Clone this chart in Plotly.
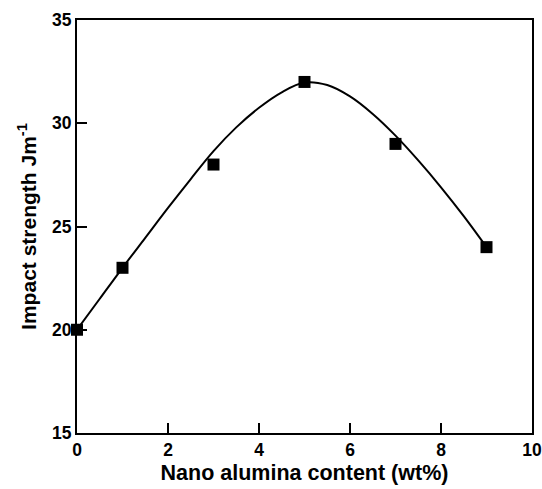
import plotly.graph_objects as go

# Measured data points
content = [0, 1, 3, 5, 7, 9]
impact = [20, 23, 28, 32, 29, 24]

# Fitted curve
curve_x = [0, 0.5, 1, 1.5, 2, 2.5, 3, 3.5, 4, 4.5, 5, 5.5, 6, 6.5, 7, 7.5, 8, 8.5, 9]
curve_y = [20, 21.5, 23, 24.45, 25.9, 27.3, 28.65, 29.8, 30.75, 31.5, 31.97, 31.85, 31.3, 30.45, 29.4, 28.2, 26.9, 25.5, 24.0]

x_ticks = [0, 2, 4, 6, 8, 10]
y_ticks = [15, 20, 25, 30, 35]
x_labels = ["0", "2", "4", "6", "8", "10"]
y_labels = ["15", "20", "25", "30", "35"]

FONT = "Liberation Sans"

fig = go.Figure()
fig.add_trace(go.Scatter(x=curve_x, y=curve_y, mode="lines",
                         line=dict(color="black", width=2, shape="spline", smoothing=1),
                         showlegend=False, cliponaxis=False))
fig.add_trace(go.Scatter(x=content, y=impact, mode="markers",
                         marker=dict(symbol="square", size=12, color="black"),
                         showlegend=False, cliponaxis=False))

axis_common = dict(showgrid=False, zeroline=False, showline=True, linecolor="black",
                   linewidth=2, mirror=True, ticks="inside", ticklen=10, tickwidth=2,
                   tickcolor="black", automargin=False, ticklabeloverflow="allow",
                   tickfont=dict(family=FONT, size=17.5, color="black"))

fig.update_layout(
    width=542, height=489,
    margin=dict(l=77, r=10, t=20, b=56),
    paper_bgcolor="white", plot_bgcolor="white",
    font=dict(family=FONT, color="black"),
    xaxis=dict(range=[0, 10], tickvals=x_ticks,
               ticktext=["<b>" + t + "</b>" for t in x_labels],
               title=dict(text="<b>Nano alumina content (wt%)</b>",
                          font=dict(family=FONT, size=21.5), standoff=6),
               **axis_common),
    yaxis=dict(range=[15, 35], tickvals=y_ticks,
               ticktext=["<b>" + t + "</b>" for t in y_labels],
               title=dict(text="<b>Impact strength Jm<sup>-1</sup></b>",
                          font=dict(family=FONT, size=21), standoff=10),
               **axis_common),
)

fig.write_html("out.html")
